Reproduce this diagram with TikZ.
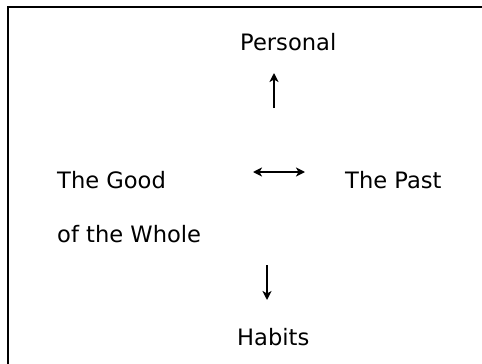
\documentclass[tikz,border=0pt]{standalone}
\usepackage{fontspec}
\setmainfont{DejaVu Sans}
\usetikzlibrary{arrows.meta}
\begin{document}
\begin{tikzpicture}[x=1pt,y=-1pt,
  lbl/.style={anchor=base west,inner sep=0pt,font=\fontsize{22.6}{27}\selectfont},
  tip/.style={Stealth[length=9pt,width=9pt,inset=2.5pt]},
  arr/.style={line width=2pt,-{Stealth[length=9pt,width=9pt,inset=2.5pt]}},
  darr/.style={line width=2pt,{Stealth[length=9pt,width=9pt,inset=2.5pt]}-{Stealth[length=9pt,width=9pt,inset=2.5pt]}},
  frame/.style={draw=black,line width=1.8pt}]
\useasboundingbox (0,0) rectangle (482,364);
\clip (0,0) rectangle (482,364);
\draw[frame] (8,7) rectangle (500,380);
\node[lbl] (personal) at (240,50) {Personal};
\node[lbl] (good) at (57,188) {The Good};
\node[lbl] (past) at (345,188) {The Past};
\node[lbl] (whole) at (57,242) {of the Whole};
\node[lbl] (habits) at (237,345) {Habits};
\coordinate (upA) at (274,108);
\coordinate (upB) at (274,73);
\coordinate (lrA) at (253,172);
\coordinate (lrB) at (305,172);
\coordinate (dnA) at (267,265);
\coordinate (dnB) at (267,300);
\draw[arr] (upA) -- (upB);
\draw[darr] (lrA) -- (lrB);
\draw[arr] (dnA) -- (dnB);
\end{tikzpicture}
\end{document}
